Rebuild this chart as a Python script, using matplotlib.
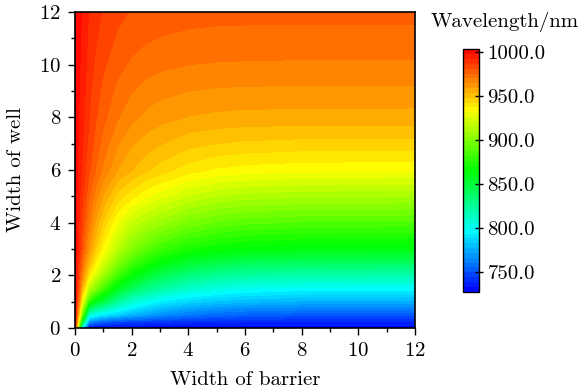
import matplotlib
matplotlib.use('Agg')
import matplotlib.pyplot as plt
import numpy as np
from matplotlib.colors import LinearSegmentedColormap
from matplotlib.ticker import MultipleLocator, FormatStrFormatter

plt.rcParams['font.family'] = 'serif'
plt.rcParams['font.serif'] = ['cmr10']
plt.rcParams['mathtext.fontset'] = 'cm'
plt.rcParams['axes.formatter.use_mathtext'] = True

# grid of barrier / well widths and the emission wavelength (nm) on it
barrier_width = [0, 0.1, 0.25, 0.5, 0.75, 1, 1.5, 2, 2.5, 3, 4, 5, 6, 8, 12]
well_width = [0, 0.25, 0.5, 0.75, 1, 1.5, 2, 2.5, 3, 4, 5, 6, 7, 8, 9, 10, 11, 12]
wavelength = [
    [1001, 918.9, 795.9, 727.5, 727.5, 727.5, 727.5, 727.5, 727.5, 727.5, 727.5, 727.5, 727.5, 727.5, 727.5],
    [1001, 948.7, 857.1, 770.7, 760.2, 755.0, 749.8, 747.2, 745.1, 743.2, 741.9, 740.6, 739.3, 739.3, 739.3],
    [1001, 963.5, 896.0, 806.0, 796.0, 791.0, 783.5, 776.0, 771.0, 766.0, 759.8, 756.0, 753.5, 751.0, 751.0],
    [1001, 972.4, 915.3, 843.9, 827.3, 820.1, 803.5, 792.7, 785.6, 779.7, 772.5, 767.8, 765.4, 763.5, 763.0],
    [1001, 978.4, 933.2, 876.7, 856.4, 847.3, 824.7, 808.9, 799.9, 793.1, 785.2, 781.1, 778.4, 775.7, 775.0],
    [1001, 984.6, 955.9, 914.9, 898.5, 882.1, 857.5, 841.1, 830.9, 822.7, 810.4, 804.2, 800.1, 797.0, 796.0],
    [1001, 990.0, 968.1, 938.8, 922.3, 907.7, 883.0, 864.7, 852.8, 843.6, 831.9, 825.3, 821.8, 819.1, 818.0],
    [1001, 992.1, 975.2, 952.7, 936.6, 923.7, 900.4, 884.3, 873.2, 864.1, 852.9, 846.8, 843.5, 841.0, 840.0],
    [1001, 994.0, 981.3, 961.5, 946.7, 934.7, 915.3, 900.5, 889.6, 881.6, 871.6, 866.2, 863.2, 861.0, 860.0],
    [1001, 995.3, 984.9, 970.2, 958.0, 947.5, 931.1, 919.0, 912.5, 906.7, 897.5, 891.8, 888.9, 886.8, 886.0],
    [1001, 996.5, 988.3, 976.6, 967.0, 958.7, 945.7, 939.1, 932.8, 928.2, 920.0, 915.0, 912.5, 910.7, 910.0],
    [1001, 997.6, 991.5, 982.4, 975.2, 969.0, 959.2, 954.1, 949.3, 945.6, 939.8, 936.4, 934.7, 933.5, 933.0],
    [1001, 998.3, 993.3, 984.9, 978.8, 973.6, 965.5, 959.9, 956.8, 954.3, 950.1, 948.2, 947.1, 946.2, 946.0],
    [1001, 998.8, 994.8, 987.0, 981.7, 977.4, 970.9, 966.5, 963.4, 961.4, 959.0, 957.9, 957.4, 957.1, 957.0],
    [1001, 999.1, 995.8, 988.2, 983.6, 979.8, 974.3, 970.6, 968.2, 966.6, 964.9, 964.1, 963.8, 963.5, 963.5],
    [1001, 999.4, 996.6, 989.7, 985.6, 982.4, 977.8, 974.8, 972.9, 971.7, 970.4, 969.9, 969.7, 969.5, 969.5],
    [1001, 999.7, 997.2, 990.9, 987.4, 984.6, 980.6, 978.2, 976.6, 975.7, 974.7, 974.2, 974.1, 974.0, 974.0],
    [1001, 999.8, 997.7, 992.0, 988.9, 986.4, 983.0, 980.9, 979.6, 978.8, 978.0, 977.7, 977.6, 977.5, 977.5],
]
cbar_ticks = [750, 800, 850, 900, 950, 1000]

levels = np.linspace(727.3, 1003.5, 51)
rainbow = LinearSegmentedColormap.from_list(
    'rainbow5', ['#0000ff', '#00ffff', '#00ff00', '#ffff00', '#ff0000'])

fig = plt.figure(figsize=(5.79, 3.91), dpi=100)
ax = fig.add_axes([0.1295, 0.1611, 0.5873, 0.8082])
cax = fig.add_axes([0.7997, 0.254, 0.0276, 0.62])

cs = ax.contourf(barrier_width, well_width, np.array(wavelength),
                 levels=levels, cmap=rainbow, antialiased=False)

ax.set_xlim(0, 12)
ax.set_ylim(0, 12)
ax.xaxis.set_major_locator(MultipleLocator(2))
ax.xaxis.set_minor_locator(MultipleLocator(1))
ax.yaxis.set_major_locator(MultipleLocator(2))
ax.yaxis.set_minor_locator(MultipleLocator(1))
ax.tick_params(which='major', length=5, width=1, labelsize=15, pad=5)
ax.tick_params(which='minor', length=3, width=1)
for s in ax.spines.values():
    s.set_linewidth(1.2)
ax.set_xlabel('Width of barrier', fontsize=15, labelpad=8)
ax.set_ylabel('Width of well', fontsize=15, labelpad=10)

cb = fig.colorbar(cs, cax=cax, ticks=cbar_ticks)
cb.ax.yaxis.set_major_formatter(FormatStrFormatter('%.1f'))
cb.ax.tick_params(direction='inout', length=6, width=1, labelsize=15, pad=3)
cb.outline.set_linewidth(1)
fig.text(0.872, 0.945, 'Wavelength/nm', ha='center', va='center', fontsize=15)

fig.savefig('out.png', dpi=100)
plt.close(fig)
